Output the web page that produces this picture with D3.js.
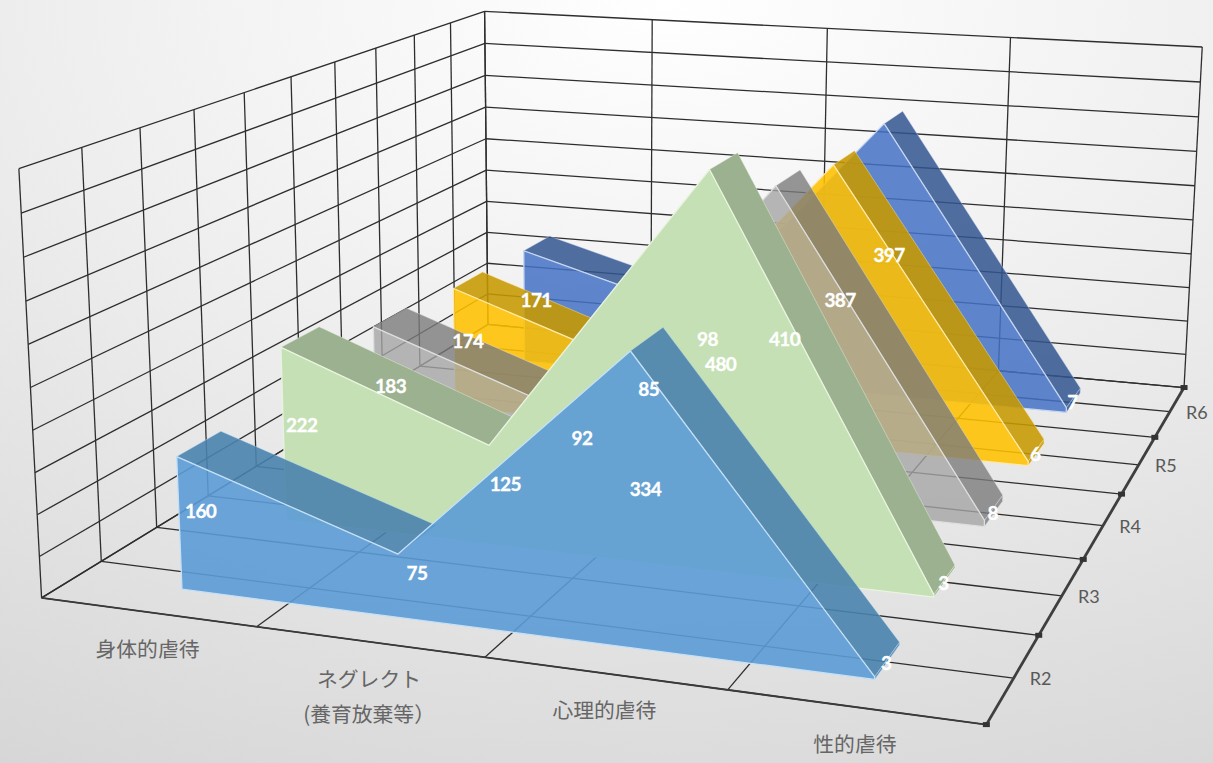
<!DOCTYPE html>
<html lang="ja">
<head>
<meta charset="UTF-8">
<title>虐待種別 3D面グラフ</title>
<script src="https://d3js.org/d3.v7.min.js"></script>
<style>
    html, body { margin: 0; padding: 0; background: #fff; }
    svg { display: block; }
    .cat-label { font-family: "Noto Sans CJK JP", sans-serif; font-size: 20.8px; fill: #666; text-anchor: middle; }
    .series-label { font-family: Lato, sans-serif; font-size: 18px; fill: #595959; text-anchor: middle; }
    .value-label { font-family: Lato, sans-serif; font-size: 19px; letter-spacing: -0.6px; font-weight: bold; fill: #fff; stroke: #fff; stroke-width: 0.3px; text-anchor: middle; dominant-baseline: central; }
</style>
</head>
<body>
<div id="chart"></div>
<script>
    // chart data, front series first
    const categories = ["身体的虐待", "ネグレクト\n(養育放棄等）", "心理的虐待", "性的虐待"];
    const seriesNames = ["R2", "R3", "R4", "R5", "R6"];
    const r2 = [160, 75, 334, 3];
    const r3 = [222, 125, 480, 3];
    const r4 = [183, 92, 410, 8];
    const r5 = [174, 85, 387, 6];
    const r6 = [171, 98, 397, 7];
    const valueTicks = [0, 50, 100, 150, 200, 250, 300, 350, 400, 450, 500];

    const seriesValues = [r2, r3, r4, r5, r6];

    // face colours per series: front, top band, outline, opacity
    const faceStyles = [
        { front: "#5B9BD5", band: "#4a83ad", edge: "#c4e0f7", alpha: 0.9 },
        { front: "#c5e0b4", band: "#9bb18f", edge: "#e8f4df", alpha: 1 },
        { front: "#A5A5A5", band: "#7c7c7c", edge: "#dedede", alpha: 0.8 },
        { front: "#FFC000", band: "#c79800", edge: "#ffe9a6", alpha: 0.88 },
        { front: "#4472C4", band: "#33558f", edge: "#c5d6f2", alpha: 0.85 }
    ];

    const width = 1213, height = 763;
    const ribbonFront = 0.3, ribbonBack = 0.7; // ribbon extent inside one series slot

    // scales to the box model: u along categories, v up, w into the picture
    const u = d3.scaleBand().domain(d3.range(categories.length)).range([0, 4]);
    const v = d3.scaleLinear().domain([0, 500]).range([0, 10]);
    const w = d3.scaleBand().domain(d3.range(seriesNames.length)).range([0, 5]);

    // where known box points land on the picture: [u, v, w, x, y]
    const calibration = [
        [0, 0, 0, 42, 598], [1, 0, 0, 258, 628], [2, 0, 0, 485, 657], [3, 0, 0, 727, 690], [4, 0, 0, 985, 724],
        [4, 0, 1, 1040, 635], [4, 0, 2, 1083, 559], [4, 0, 3, 1122, 495], [4, 0, 4, 1155, 438], [4, 0, 5, 1184, 388],
        [0, 0, 5, 487, 323], [0, 10, 0, 18, 168], [0, 10, 5, 485, 11], [4, 10, 5, 1202, 46],
        [0, 5, 0, 30, 387], [0, 5, 5, 486, 171], [4, 5, 5, 1193, 219],
        [1, 10, 5, 652, 20], [2, 10, 5, 828, 29], [3, 10, 5, 1010, 38],
        [0, 10, 1, 140, 128], [0, 10, 2, 244, 93], [0, 10, 3, 335, 62], [0, 10, 4, 415, 35]
    ];

    // least squares fit of the 3x4 camera matrix (last term fixed to 1)
    function fitCamera(points) {
        const n = 11;
        const A = d3.range(n).map(() => new Array(n + 1).fill(0));
        function addRow(row, b) {
            for (let i = 0; i < n; i++) {
                for (let j = 0; j < n; j++) A[i][j] += row[i] * row[j];
                A[i][n] += row[i] * b;
            }
        }
        points.forEach(([a, b, c, x, y]) => {
            addRow([a, b, c, 1, 0, 0, 0, 0, -x * a, -x * b, -x * c], x);
            addRow([0, 0, 0, 0, a, b, c, 1, -y * a, -y * b, -y * c], y);
        });
        for (let i = 0; i < n; i++) {
            let p = i;
            for (let r = i + 1; r < n; r++) if (Math.abs(A[r][i]) > Math.abs(A[p][i])) p = r;
            [A[i], A[p]] = [A[p], A[i]];
            for (let r = 0; r < n; r++) {
                if (r === i) continue;
                const f = A[r][i] / A[i][i];
                for (let c = i; c <= n; c++) A[r][c] -= f * A[i][c];
            }
        }
        return A.map((row, i) => row[n] / row[i]);
    }

    const cam = fitCamera(calibration);

    function project(a, b, c) {
        const d = cam[8] * a + cam[9] * b + cam[10] * c + 1;
        return [
            (cam[0] * a + cam[1] * b + cam[2] * c + cam[3]) / d,
            (cam[4] * a + cam[5] * b + cam[6] * c + cam[7]) / d
        ];
    }

    const line = d3.line();
    const closed = pts => line(pts) + "Z";
    const catCenter = i => u(i) + u.bandwidth() / 2;
    const slot = (s, t) => w(s) + t * w.bandwidth();

    const svg = d3.select("#chart").append("svg")
        .attr("width", width)
        .attr("height", height);

    // background
    const bg = svg.append("defs").append("radialGradient")
        .attr("id", "bg")
        .attr("cx", "55%").attr("cy", "0%").attr("r", "115%");
    bg.append("stop").attr("offset", "0%").attr("stop-color", "#ffffff");
    bg.append("stop").attr("offset", "45%").attr("stop-color", "#eeeeee");
    bg.append("stop").attr("offset", "100%").attr("stop-color", "#d6d6d6");
    svg.append("rect").attr("width", width).attr("height", height).attr("fill", "url(#bg)");

    // walls and floor grid
    const gridLines = [];
    const depthTicks = d3.range(0, 5.01, 0.5);
    const catTicks = d3.range(0, 4.01, 1);
    valueTicks.forEach(t => {
        gridLines.push([[0, v(t), 0], [0, v(t), 5]]);
        gridLines.push([[0, v(t), 5], [4, v(t), 5]]);
    });
    depthTicks.forEach(d => {
        gridLines.push([[0, 0, d], [0, 10, d]]);
        gridLines.push([[0, 0, d], [4, 0, d]]);
    });
    catTicks.forEach(c => {
        gridLines.push([[c, 0, 5], [c, 10, 5]]);
        gridLines.push([[c, 0, 0], [c, 0, 5]]);
    });

    svg.append("g").selectAll("path")
        .data(gridLines)
        .join("path")
        .attr("d", d => line(d.map(p => project(...p))))
        .attr("fill", "none")
        .attr("stroke", "#2e2e2e")
        .attr("stroke-width", 1.3);

    // axis edges
    svg.append("path")
        .attr("d", line([project(0, 0, 0), project(4, 0, 0)]))
        .attr("stroke", "#3a3a3a").attr("stroke-width", 1.8);
    svg.append("path")
        .attr("d", line([project(4, 0, 0), project(4, 0, 5)]))
        .attr("stroke", "#3f3f3f").attr("stroke-width", 2.8);
    svg.append("g").selectAll("rect")
        .data(d3.range(0, 6))
        .join("rect")
        .attr("x", d => project(4, 0, d)[0] - 3.5)
        .attr("y", d => project(4, 0, d)[1] - 2.5)
        .attr("width", 7)
        .attr("height", 5)
        .attr("fill", "#333");

    // ribbons, painted back to front
    const ribbons = svg.append("g").selectAll("g")
        .data(seriesNames.map((name, s) => ({ name, s, values: seriesValues[s], style: faceStyles[s] })).reverse())
        .join("g");

    ribbons.each(function (r) {
        const g = d3.select(this);
        const wf = slot(r.s, ribbonFront), wb = slot(r.s, ribbonBack);
        const bands = [];

        // sloped top faces, only the ones turned to the viewer
        d3.pairs(r.values.map((val, i) => [catCenter(i), v(val)])).forEach(([a, b]) => {
            const quad = [project(a[0], a[1], wf), project(b[0], b[1], wf), project(b[0], b[1], wb), project(a[0], a[1], wb)];
            if (d3.polygonArea(quad) > 0) bands.push(quad);
        });

        // closing face at the right end
        const last = r.values.length - 1;
        const endU = catCenter(last), endV = v(r.values[last]);
        bands.push([project(endU, endV, wf), project(endU, endV, wb), project(endU, 0, wb), project(endU, 0, wf)]);

        g.selectAll(".band")
            .data(bands)
            .join("path")
            .attr("class", "band")
            .attr("d", closed)
            .attr("fill", r.style.band)
            .attr("fill-opacity", r.style.alpha)
            .attr("stroke", r.style.edge)
            .attr("stroke-opacity", 0.55)
            .attr("stroke-width", 0.8);

        const outline = r.values.map((val, i) => project(catCenter(i), v(val), wf));
        outline.push(project(endU, 0, wf), project(catCenter(0), 0, wf));
        g.append("path")
            .attr("d", closed(outline))
            .attr("fill", r.style.front)
            .attr("fill-opacity", r.style.alpha)
            .attr("stroke", r.style.edge)
            .attr("stroke-width", 1.3)
            .attr("stroke-linejoin", "round");
    });

    // data labels sit half way up the ribbon, mid depth
    const labelData = [];
    seriesValues.forEach((vals, s) => vals.forEach((val, i) => {
        labelData.push({ val, pos: project(catCenter(i), v(val) / 2, slot(s, (ribbonFront + ribbonBack) / 2)) });
    }));
    svg.append("g").selectAll("text")
        .data(labelData)
        .join("text")
        .attr("class", "value-label")
        .attr("x", d => d.pos[0] - 1)
        .attr("y", d => d.pos[1] + 1.5)
        .text(d => d.val);

    // category labels below the front edge
    svg.append("g").selectAll("text")
        .data(categories)
        .join("text")
        .attr("class", "cat-label")
        .each(function (d, i) {
            const p = project(catCenter(i), 0, 0);
            d3.select(this).selectAll("tspan")
                .data(d.split("\n"))
                .join("tspan")
                .attr("x", p[0])
                .attr("y", (t, k) => p[1] + 45 + k * 35)
                .text(t => t);
        });

    // series labels right of the depth edge
    svg.append("g").selectAll("text")
        .data(seriesNames)
        .join("text")
        .attr("class", "series-label")
        .attr("x", (d, s) => project(4, 0, slot(s, 0.5))[0] + 27)
        .attr("y", (d, s) => project(4, 0, slot(s, 0.5))[1] + 7)
        .text(d => d);
</script>
</body>
</html>
